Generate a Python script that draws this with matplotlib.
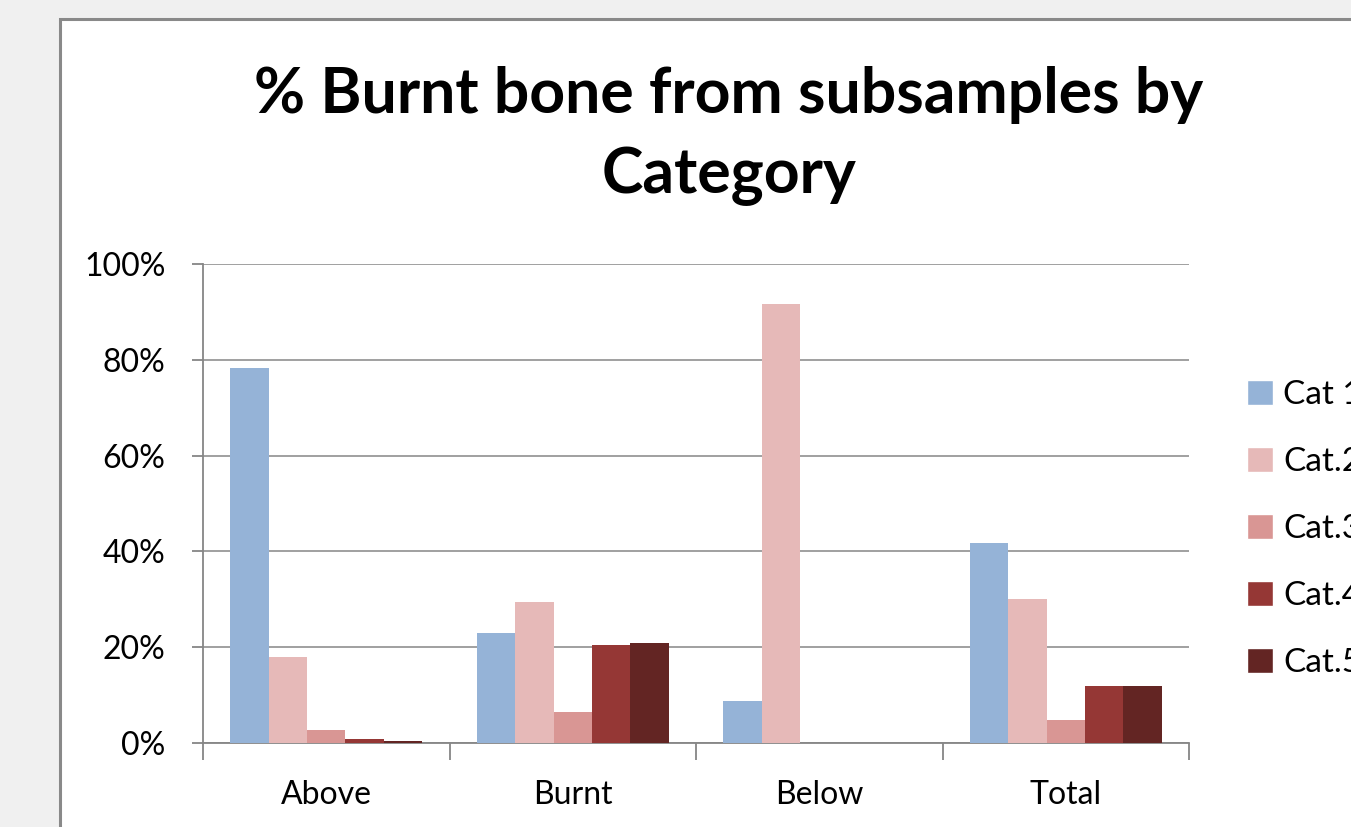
import matplotlib
matplotlib.use("Agg")
import matplotlib.pyplot as plt
from matplotlib.patches import Rectangle, Patch
import numpy as np

plt.rcParams['font.family'] = ['Lato', 'DejaVu Sans']

groups = ['Above', 'Burnt', 'Below', 'Total']
series = ['Cat 1', 'Cat.2', 'Cat.3', 'Cat.4', 'Cat.5']
cat1 = [78.3, 23.0, 8.8, 41.8]
cat2 = [18.0, 29.4, 91.6, 30.1]
cat3 = [2.7, 6.5, 0.0, 4.8]
cat4 = [0.8, 20.5, 0.0, 11.9]
cat5 = [0.4, 20.9, 0.0, 11.9]
colors = ['#95b3d7', '#e6b9b8', '#d99694', '#953735', '#632523']

W, H = 1351, 827
fig = plt.figure(figsize=(W / 100, H / 100), dpi=100, facecolor='#f0f0f0')

# white chart area, cropped at right/bottom like the screenshot
fig.patches.append(Rectangle((60 / W, -0.1), 1.2, (H - 19) / H + 0.1,
                             transform=fig.transFigure, facecolor='white',
                             edgecolor='#898989', linewidth=2.2, zorder=-5))

ax = fig.add_axes([203 / W, 84 / H, 986 / W, 479 / H])
ax.set_facecolor('none')
ax.set_zorder(2)

vals = [cat1, cat2, cat3, cat4, cat5]
x = np.arange(len(groups))
bw = 0.156
for i, (v, c) in enumerate(zip(vals, colors)):
    ax.bar(x + (i - 2) * bw, v, width=bw, color=c, label=series[i], zorder=3)

ax.set_xlim(-0.5, 3.5)
ax.set_ylim(0, 100)
ax.set_yticks(range(0, 101, 20))
ax.set_yticklabels([f'{t}%' for t in range(0, 101, 20)], fontsize=23)
ax.yaxis.grid(True, color='#868686', linewidth=1.1, zorder=1)
ax.set_axisbelow(True)
ax.set_xticks([-0.5, 0.5, 1.5, 2.5, 3.5])
ax.set_xticklabels([])
ax.set_xticks(x, minor=True)
ax.set_xticklabels(groups, minor=True, fontsize=23)
ax.tick_params(axis='x', which='major', length=12, color='#868686', width=1.3)
ax.tick_params(axis='x', which='minor', length=0, pad=27)
ax.tick_params(axis='y', length=8, color='#868686', width=1.3, pad=19)
for s in ['top', 'right']:
    ax.spines[s].set_visible(False)
for s in ['left', 'bottom']:
    ax.spines[s].set_color('#868686')
    ax.spines[s].set_linewidth(1.3)

fig.text(729 / W, 1 - 136 / H, '% Burnt bone from subsamples by\nCategory',
         ha='center', va='center', fontsize=45, fontweight='bold',
         linespacing=1.45)

handles = [Patch(facecolor=c, edgecolor='white') for c in colors]
fig.legend(handles, series, loc='upper left',
           bbox_to_anchor=(1230 / W, 1 - 363 / H), frameon=False,
           fontsize=24, handlelength=0.8, handleheight=0.8,
           handletextpad=0.3, labelspacing=1.1, borderpad=0)

fig.savefig('out.png', dpi=100, facecolor=fig.get_facecolor())
